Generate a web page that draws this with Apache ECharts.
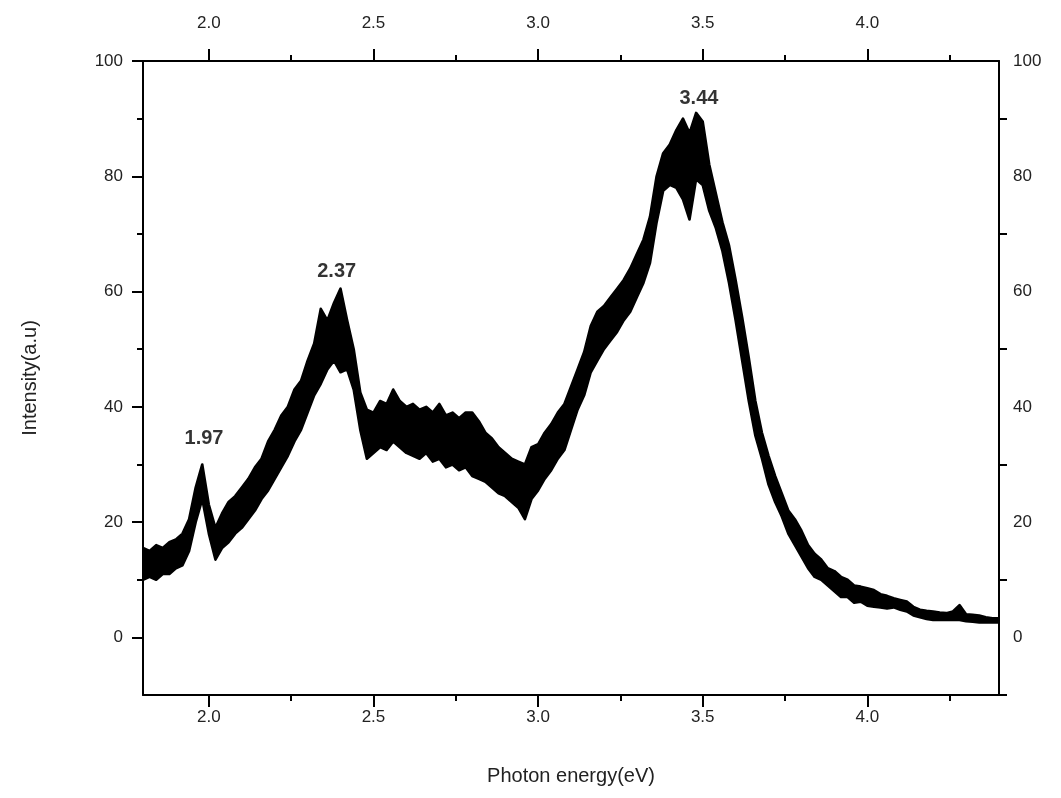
<!DOCTYPE html>
<html>
<head>
<meta charset="utf-8">
<script src="https://cdn.jsdelivr.net/npm/echarts@6/dist/echarts.min.js"></script>
<style>
html,body{margin:0;padding:0;background:#fff;}
#chart{width:1061px;height:798px;}
</style>
</head>
<body>
<div id="chart"></div>
<script>
// ---- data ----
const energy = [
1.80,1.82,1.84,1.86,1.88,1.90,1.92,1.94,1.96,1.98,
2.00,2.02,2.04,2.06,2.08,2.10,2.12,2.14,2.16,2.18,
2.20,2.22,2.24,2.26,2.28,2.30,2.32,2.34,2.36,2.38,
2.40,2.42,2.44,2.46,2.48,2.50,2.52,2.54,2.56,2.58,
2.60,2.62,2.64,2.66,2.68,2.70,2.72,2.74,2.76,2.78,
2.80,2.82,2.84,2.86,2.88,2.90,2.92,2.94,2.96,2.98,
3.00,3.02,3.04,3.06,3.08,3.10,3.12,3.14,3.16,3.18,
3.20,3.22,3.24,3.26,3.28,3.30,3.32,3.34,3.36,3.38,
3.40,3.42,3.44,3.46,3.48,3.50,3.52,3.54,3.56,3.58,
3.60,3.62,3.64,3.66,3.68,3.70,3.72,3.74,3.76,3.78,
3.80,3.82,3.84,3.86,3.88,3.90,3.92,3.94,3.96,3.98,
4.00,4.02,4.04,4.06,4.08,4.10,4.12,4.14,4.16,4.18,4.20,
4.22,4.24,4.26,4.28,4.30,4.32,4.34,4.36,4.38,4.40];

// upper edge of the noisy trace
const upper = [
15.5,15,16,15.5,16.5,17,18,20.5,26,30,
23,19,21.5,23.5,24.5,26,27.5,29.5,31,34,
36,38.5,40,43,44.5,48,51,57,55,58,
60.5,55,50,42.5,39.5,39,41,40.5,43,41,
40,40.5,39.5,40,39,40.5,38.5,39,38,39,
39,37.5,35.5,34.5,33,32,31,30.5,30,33,
33.5,35.5,37,39,40.5,43.5,46.5,49.5,54,56.5,
57.5,59,60.5,62,64,66.5,69,73,80,84,
85.5,88,90,87.5,91,89.5,82,77,72,68,
62,55.5,48.5,41,35.5,31.5,28,25,22,20.5,
18.5,16,14.5,13.5,12,11.5,10.5,10,9,8.8,
8.5,8.2,7.5,7.2,6.8,6.5,6.2,5.3,4.8,4.6,4.5,
4.3,4.2,4.5,5.6,4,3.9,3.8,3.5,3.3,3.3];

// lower edge of the noisy trace
const lower = [
10,10.5,10,11,11,12,12.5,15,20,24,
18,13.5,15.5,16.5,18,19,20.5,22,24,25.5,
27.5,29.5,31.5,34,36,39,42,44,46.5,48,
46,46.5,43,36,31,32,33,32.5,34,33,
32,31.5,31,32,30.5,31,29.5,30,29,29.5,
28,27.5,27,26,25,24.5,23.5,22.5,20.5,24,
25.5,27.5,29,31,32.5,36,39.5,42,46,48,
50,51.5,53,55,56.5,59,61.5,65,72,77.5,
78.5,78,76,72.5,79.5,78.5,74,71,67,61.5,
55,48,41,35,31,26.5,23.5,21,18,16,
14,12,10.5,10,9,8,7,7,6,6.2,
5.5,5.3,5.2,5,5.2,4.8,4.5,3.8,3.5,3.2,3,
3,3,3,3,2.8,2.7,2.6,2.6,2.6,2.6];

const peakEnergy = [1.97, 2.37, 3.44];
const peakHeight = [30, 60.5, 91];
const peakLabels = ['1.97', '2.37', '3.44'];

const xMajorTicks = [2.0, 2.5, 3.0, 3.5, 4.0];
const xMinorTicks = [2.25, 2.75, 3.25, 3.75, 4.25];
const yMajorTicks = [0, 20, 40, 60, 80, 100];
const yMinorTicks = [10, 30, 50, 70, 90];
const yRightTicks = [-10, 10, 30, 50, 70, 90];

// ---- chart ----
const FONT = '"Liberation Sans", Arial, sans-serif';
const TXT = '#222';
const xRange = {min: 1.8, max: 4.4};
const yRange = {min: -10, max: 100};
const peakOffsets = [[5, -11], [6, -2], [16, 1]];

function xAxisDef(pos, ticks, len, showLabel, showLine, labelMargin) {
  return {
    type: 'value', position: pos, min: xRange.min, max: xRange.max, z: 5,
    axisLine: {show: showLine, onZero: false, lineStyle: {color: '#000', width: 2}},
    axisTick: {show: true, customValues: ticks, length: len, inside: false,
               lineStyle: {color: '#000', width: 2}},
    axisLabel: {show: showLabel, customValues: ticks, margin: labelMargin,
                formatter: v => Number(v).toFixed(1),
                color: TXT, fontSize: 17, fontFamily: FONT},
    splitLine: {show: false}, minorTick: {show: false}
  };
}
function yAxisDef(pos, ticks, labels, len, showLabel, showLine, labelMargin) {
  return {
    type: 'value', position: pos, min: yRange.min, max: yRange.max, z: 5,
    axisLine: {show: showLine, onZero: false, lineStyle: {color: '#000', width: 2}},
    axisTick: {show: true, customValues: ticks, length: len, inside: false,
               lineStyle: {color: '#000', width: 2}},
    axisLabel: {show: showLabel, customValues: labels, margin: labelMargin,
                formatter: v => String(v),
                color: TXT, fontSize: 17, fontFamily: FONT},
    splitLine: {show: false}, minorTick: {show: false}
  };
}

const xAxes = [
  xAxisDef('bottom', xMajorTicks, 12, true, true, 14),
  xAxisDef('bottom', xMinorTicks, 6, false, false, 14),
  xAxisDef('top', xMajorTicks, 12, true, true, 29),
  xAxisDef('top', xMinorTicks, 6, false, false, 29)
];
xAxes[0].name = 'Photon energy(eV)';
xAxes[0].nameLocation = 'middle';
xAxes[0].nameGap = 71;
xAxes[0].nameTextStyle = {color: TXT, fontSize: 20, fontFamily: FONT};

const yAxes = [
  yAxisDef('left', yMajorTicks, yMajorTicks, 11, true, true, 20),
  yAxisDef('left', yMinorTicks, yMajorTicks, 6, false, false, 20),
  yAxisDef('right', yRightTicks, yMajorTicks, 8, true, true, 14)
];
yAxes[0].name = 'Intensity(a.u)';
yAxes[0].nameLocation = 'middle';
yAxes[0].nameGap = 103;
yAxes[0].nameTextStyle = {color: TXT, fontSize: 20, fontFamily: FONT};

// band of the noisy trace: polygon through upper edge, back along lower edge
function renderBand(params, api) {
  const pts = [];
  for (let i = 0; i < energy.length; i++) pts.push(api.coord([energy[i], upper[i]]));
  for (let i = energy.length - 1; i >= 0; i--) pts.push(api.coord([energy[i], lower[i]]));
  return {
    type: 'polygon',
    shape: {points: pts},
    style: {fill: '#000', stroke: '#000', lineWidth: 2.6, lineJoin: 'round'}
  };
}

const chart = echarts.init(document.getElementById('chart'), null, {renderer: 'canvas'});
chart.setOption({
  animation: false,
  backgroundColor: '#fff',
  grid: {left: 143, right: 62, top: 61, bottom: 103, containLabel: false},
  xAxis: xAxes,
  yAxis: yAxes,
  series: [
    {
      name: 'spectrum', type: 'custom', xAxisIndex: 0, yAxisIndex: 0,
      silent: true, clip: true,
      renderItem: renderBand,
      data: [[energy[0], lower[0]]]
    },
    {
      name: 'peaks', type: 'scatter', xAxisIndex: 0, yAxisIndex: 0,
      symbolSize: 0, silent: true,
      data: peakEnergy.map((e, i) => ({
        value: [e, peakHeight[i]],
        label: {
          show: true, position: 'top', offset: peakOffsets[i],
          formatter: peakLabels[i],
          color: '#000', fontSize: 20, fontWeight: 'bold', fontFamily: FONT
        }
      }))
    }
  ]
});
</script>
</body>
</html>
